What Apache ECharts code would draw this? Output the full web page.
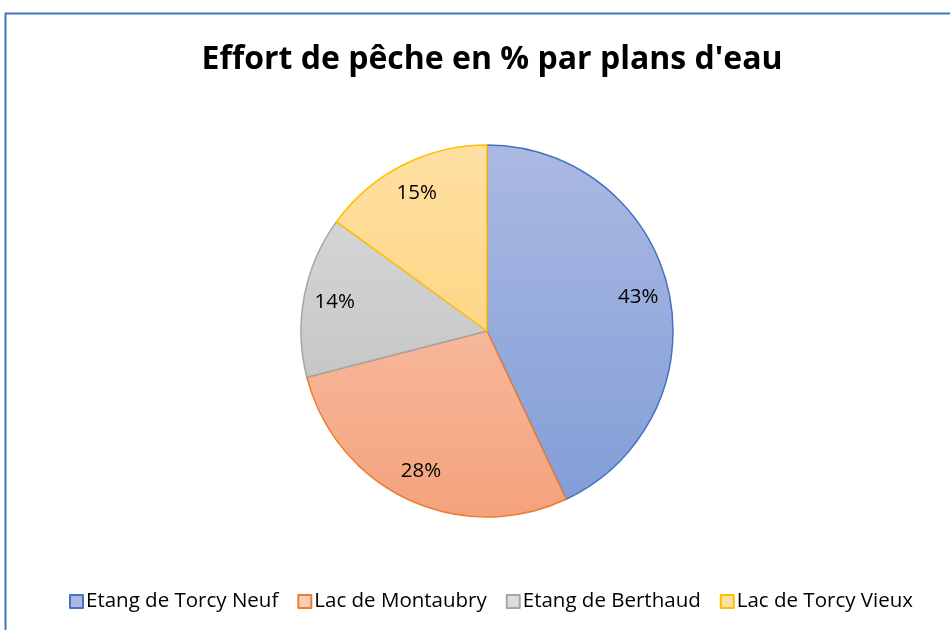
<!DOCTYPE html>
<html><head><meta charset="utf-8">
<script src="https://cdn.jsdelivr.net/npm/echarts@6/dist/echarts.min.js"></script>
<style>html,body{margin:0;padding:0;background:#fff}#c{width:950px;height:630px}</style>
</head><body><div id="c"></div>
<script>
const categories = ['Etang de Torcy Neuf', 'Lac de Montaubry', 'Etang de Berthaud', 'Lac de Torcy Vieux'];
const values = [43, 28, 14, 15];
const edgeColors = ['#4472C4', '#ED7D31', '#A5A5A5', '#FFC000'];
const topColors = ['#ABB9E2', '#F8CDB8', '#DCDCDC', '#FFE0A3'];
const bottomColors = ['#809DD7', '#F4A27C', '#BABABA', '#FDCC68'];

const chart = echarts.init(document.getElementById('c'), null, {renderer: 'canvas'});
const FONT = 'Open Sans';
function grad(i) {
  return new echarts.graphic.LinearGradient(0, 145, 0, 517, [
    {offset: 0, color: topColors[i]}, {offset: 1, color: bottomColors[i]}
  ], true);
}
const pieData = categories.map((n, i) => ({
  name: n, value: values[i],
  itemStyle: {color: grad(i), borderColor: edgeColors[i], borderWidth: 1.5}
}));
const labelData = categories.map((n, i) => ({name: n, value: values[i]}));

chart.setOption({
  animation: false,
  backgroundColor: '#fff',
  title: {
    text: "Effort de pêche en % par plans d'eau",
    left: 487, top: 39, textAlign: 'center',
    textStyle: {fontFamily: FONT, fontWeight: 'bold', fontSize: 32, color: '#000'}
  },
  legend: {
    top: 586, left: 64,
    data: categories,
    icon: 'rect', itemWidth: 13, itemHeight: 13, itemGap: 19,
    textStyle: {fontFamily: FONT, fontSize: 20.5, color: '#000', padding: [0, 0, 0, -2]}
  },
  graphic: [{
    type: 'polyline', silent: true,
    shape: {points: [[5.5, 630], [5.5, 13.5], [950, 13.5]]},
    style: {stroke: '#4472C4', lineWidth: 2, fill: null}
  }],
  series: [{
    type: 'pie', center: [487, 331], radius: [0, 186],
    startAngle: 90, clockwise: true,
    label: {show: false}, labelLine: {show: false},
    emphasis: {disabled: true},
    data: pieData
  }, {
    type: 'pie', center: [487, 331], radius: [118, 186],
    startAngle: 90, clockwise: true, silent: true,
    itemStyle: {color: 'rgba(0,0,0,0)', borderWidth: 0},
    label: {show: true, position: 'inside', formatter: '{c}%', fontFamily: FONT, fontSize: 20.5, color: '#000'},
    labelLine: {show: false},
    emphasis: {disabled: true},
    data: labelData
  }]
});
</script></body></html>
